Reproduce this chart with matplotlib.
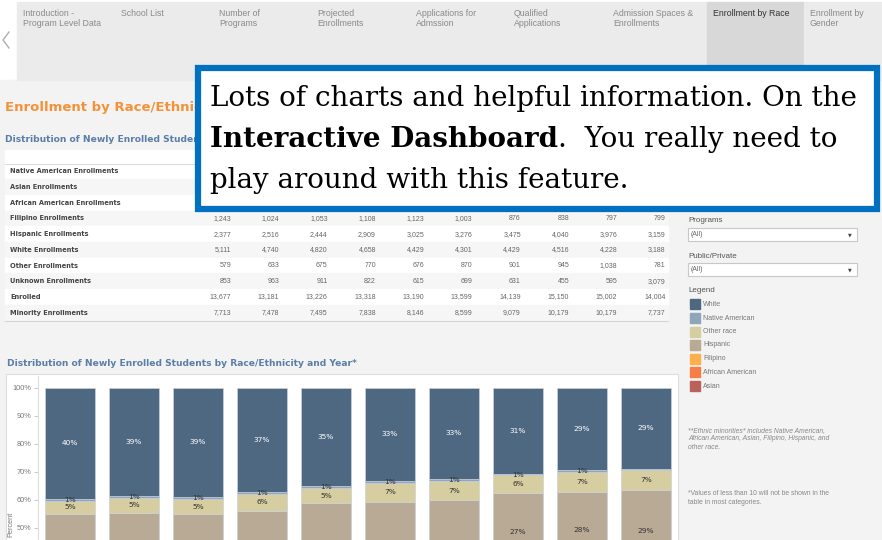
import numpy as np
import matplotlib.pyplot as plt
from matplotlib.patches import Rectangle

# tab bar
tab_labels = ['Introduction -\nProgram Level Data', 'School List', 'Number of\nPrograms',
              'Projected\nEnrollments', 'Applications for\nAdmssion', 'Qualified\nApplications',
              'Admission Spaces &\nEnrollments', 'Enrollment by Race', 'Enrollment by\nGender']
tab_edges = [17, 115, 213, 311, 410, 508, 607, 707, 804, 883]
active_tab = 7

# table values (10 years, left to right)
native = [90, 85, 86, 87, 88, 90, 95, 100, 100, 45]          # hidden behind the note box, estimated
asian = [2774, 2620, 2627, 2344, 2594, 2710, 3032, 3496, 3518, 2393]  # hidden, estimated
afam = [650, 600, 610, 620, 640, 650, 700, 760, 750, 560]    # hidden, estimated
filipino = [1243, 1024, 1053, 1108, 1123, 1003, 876, 838, 797, 799]
hispanic = [2377, 2516, 2444, 2909, 3025, 3276, 3475, 4040, 3976, 3159]
white = [5111, 4740, 4820, 4658, 4429, 4301, 4429, 4516, 4228, 3188]
other = [579, 633, 675, 770, 676, 870, 901, 945, 1038, 781]
unknown = [853, 963, 911, 822, 615, 699, 631, 455, 595, 3079]
enrolled = [13677, 13181, 13226, 13318, 13190, 13599, 14139, 15150, 15002, 14004]
minority = [7713, 7478, 7495, 7838, 8146, 8599, 9079, 10179, 10179, 7737]

row_labels = ['Native American Enrollments', 'Asian Enrollments', 'African American Enrollments',
              'Filipino Enrollments', 'Hispanic Enrollments', 'White Enrollments',
              'Other Enrollments', 'Unknown Enrollments', 'Enrolled', 'Minority Enrollments']
row_values = [native, asian, afam, filipino, hispanic, white, other, unknown, enrolled, minority]
hidden_rows = 3  # first rows sit under the note box

# chart series, bottom to top
race_names = ['Asian', 'African American', 'Filipino', 'Hispanic', 'Other race', 'Native American', 'White']
race_counts = [asian, afam, filipino, hispanic, other, native, white]
race_colors = ['#b9625a', '#f47e45', '#f9b04d', '#b9aa95', '#d6cea0', '#8ea5ba', '#4e6881']

fig = plt.figure(figsize=(8.82, 5.4), dpi=100)
fig.patch.set_facecolor('white')
bg = fig.add_axes([0, 0, 1, 1])
bg.set_xlim(0, 882)
bg.set_ylim(540, 0)
bg.axis('off')

sans = ['Liberation Sans', 'DejaVu Sans']

# page background
bg.add_patch(Rectangle((0, 80), 882, 460, color='#f3f3f3', zorder=0))

# tabs
for i, lab in enumerate(tab_labels):
    x0, x1 = tab_edges[i], tab_edges[i + 1] - 1.5
    col = '#d8d8d8' if i == active_tab else '#ebebeb'
    bg.add_patch(Rectangle((x0, 2), x1 - x0, 78, color=col, zorder=1))
    bg.text(x0 + 6, 9, lab, fontsize=6.3, family=sans, va='top', linespacing=1.15,
            color='#333333' if i == active_tab else '#8a8a8a', zorder=2)
bg.plot([9, 3, 9], [32, 40, 48], color='#b0b0b0', lw=1, zorder=2)

# headings (partly under the note box)
bg.text(5, 107, 'Enrollment by Race/Ethnicity', fontsize=9.5, weight='bold', color='#f39237',
        va='center', family='DejaVu Sans', zorder=2)
bg.text(5, 140, 'Distribution of Newly Enrolled Students',
        fontsize=6.6, weight='bold', color='#5a7ea8', va='center', family='DejaVu Sans', zorder=2)

# table
bg.add_patch(Rectangle((5, 150), 663, 13, color='white', zorder=1))
bg.plot([5, 668], [163.5, 163.5], color='#dddddd', lw=0.8, zorder=2)
col_x = [231 + 48.3 * j for j in range(10)]
for i, (lab, vals) in enumerate(zip(row_labels, row_values)):
    yc = 171.3 + 15.7 * i
    bg.add_patch(Rectangle((5, yc - 7.85), 663, 15.7, color='#f6f6f6' if i % 2 else 'white', zorder=1))
    bg.text(10, yc, lab, fontsize=4.8, weight='bold', color='#444444', va='center',
            family='DejaVu Sans', zorder=2)
    if i < hidden_rows:
        continue
    for j, v in enumerate(vals):
        bg.text(col_x[j], yc, f'{v:,}', fontsize=5, color='#666666', va='center', ha='right',
                family=sans, zorder=2)
bg.plot([5, 668], [321, 321], color='#d5d5d5', lw=0.8, zorder=2)

# note box
bg.add_patch(Rectangle((198, 68), 679, 141, facecolor='white', edgecolor='#0070c0', lw=4.5, zorder=5))
serif = 'DejaVu Serif'
fs = 20
bg.text(210, 106, 'Lots of charts and helpful information. On the', fontsize=fs,
        family=serif, va='baseline', zorder=6)
t_bold = bg.text(210, 147, 'Interactive Dashboard', fontsize=fs, family=serif,
                 weight='bold', va='baseline', zorder=6)
bg.annotate('.  You really need to', xy=(1, 0), xycoords=t_bold, fontsize=fs, family=serif,
            va='bottom', ha='left', zorder=6)
bg.text(210, 188, 'play around with this feature.', fontsize=fs, family=serif,
        va='baseline', zorder=6)

# filters
for lab, ytxt, ybox in [('Programs', 220, 228), ('Public/Private', 256, 263)]:
    bg.text(688, ytxt, lab, fontsize=5.8, color='#555555', va='center', family=sans, zorder=2)
    bg.add_patch(Rectangle((688, ybox), 169, 12.5, facecolor='white', edgecolor='#c8c8c8',
                           lw=0.8, zorder=2))
    bg.text(691, ybox + 6.3, '(All)', fontsize=5, color='#666666', va='center', family=sans, zorder=3)
    bg.text(850, ybox + 6.5, '\u25bc', fontsize=3.5, color='#444444', va='center', ha='center', zorder=3)

bg.text(688, 291, 'Legend', fontsize=5.8, color='#555555', va='center', family=sans, zorder=2)
leg_y = [304, 318, 331.5, 345, 358.5, 372, 386]
for k, yy in enumerate(leg_y):
    idx = len(race_names) - 1 - k
    bg.add_patch(Rectangle((690, yy - 5), 10, 10, color=race_colors[idx], zorder=2))
    bg.text(703, yy, race_names[idx], fontsize=5, color='#777777', va='center', family=sans, zorder=2)

bg.text(688, 427, '**Ethnic minorities* includes Native American,\nAfrican American, Asian, Filipino, Hispanic, and\nother race.',
        fontsize=4.9, style='italic', color='#888888', va='top', family=sans, linespacing=1.3, zorder=2)
bg.text(688, 490, '*Values of less than 10 will not be shown in the\ntable in most categories.',
        fontsize=4.9, color='#888888', va='top', family=sans, linespacing=1.3, zorder=2)

# chart panel
bg.text(7, 364, 'Distribution of Newly Enrolled Students by Race/Ethnicity and Year*',
        fontsize=6.6, weight='bold', color='#5a7ea8', va='center', family='DejaVu Sans', zorder=2)
bg.add_patch(Rectangle((6, 374), 672, 170, facecolor='white', edgecolor='#dddddd', lw=0.8, zorder=1))
bg.text(11, 524, 'Percent', fontsize=5.3, rotation=90, color='#777777', va='center', ha='center',
        family=sans, zorder=2)

ax = fig.add_axes([38 / 882, 0, 640 / 882, 164 / 540])
ax.patch.set_alpha(0)
denom = np.array(enrolled) - np.array(unknown)
pcts = [np.array(c) / denom * 100 for c in race_counts]
x = np.arange(10)
bottom = np.zeros(10)
for name, p, col in zip(race_names, pcts, race_colors):
    ax.bar(x, p, 0.766, bottom=bottom, color=col, edgecolor='#c9d1da', linewidth=0.5)
    for j in range(10):
        mid = bottom[j] + p[j] / 2
        # labels whose mark falls outside the visible view are not shown
        if round(p[j]) >= 1 and mid > 48:
            ax.text(x[j], mid, f'{round(p[j])}%', ha='center', va='center',
                    fontsize=5.3, family='DejaVu Sans', clip_on=True,
                    color='white' if name == 'White' else '#333333')
    bottom += p

ax.set_xlim(-0.5, 9.5)
ax.set_ylim(50 - 12.5 / 2.8, 100 + 11.5 / 2.8)
ax.set_yticks([50, 60, 70, 80, 90, 100])
ax.set_yticklabels(['50%', '60%', '70%', '80%', '90%', '100%'])
ax.tick_params(axis='y', labelsize=5.3, labelcolor='#777777', color='#cccccc', length=3, pad=2)
ax.set_xticks([])
for s in ['top', 'right', 'bottom']:
    ax.spines[s].set_visible(False)
ax.spines['left'].set_color('#dddddd')
for t in ax.get_yticklabels():
    t.set_family(sans)

fig.savefig('out.png', dpi=100)
